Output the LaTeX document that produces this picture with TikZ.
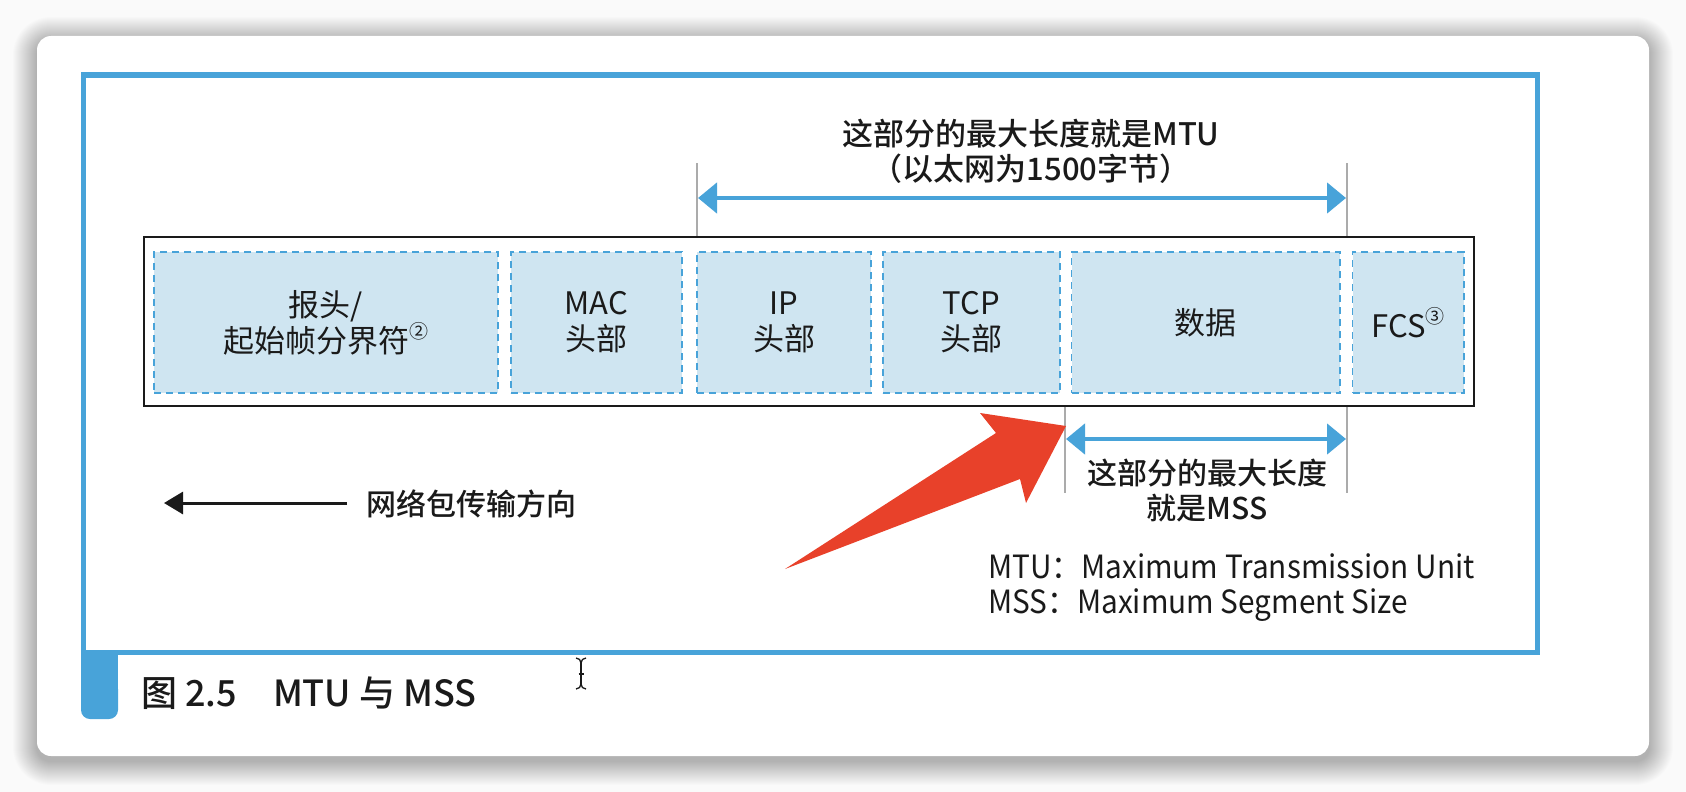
\documentclass[tikz,border=0pt]{standalone}
\usepackage{fontspec}
\setmainfont{Noto Sans CJK SC}
\newfontfamily\medfont{Noto Sans CJK SC Medium}
\newfontfamily\legfont{Noto Sans CJK SC}[FakeStretch=0.93]
\usetikzlibrary{arrows.meta}
\definecolor{frameblue}{HTML}{48A3D9}
\definecolor{cellfill}{HTML}{CFE5F1}
\definecolor{ink}{HTML}{1A1A1A}
\definecolor{arrowred}{HTML}{E8412A}
\definecolor{guide}{HTML}{ABABAB}
\definecolor{pagebg}{HTML}{FAFAFA}
\tikzset{
  cell/.style={draw=frameblue, fill=cellfill, dash pattern=on 7pt off 5pt, line width=1.6pt,
    text=ink, align=center, minimum height=141pt, inner sep=0pt,
    font=\fontsize{31}{36}\selectfont},
  guideline/.style={guide, line width=1.6pt},
  span/.style={frameblue, line width=4.5pt, {Triangle[length=19pt,width=30pt]}-{Triangle[length=19pt,width=30pt]}},
  boldlabel/.style={text=ink, align=center, inner sep=0pt, font=\medfont\fontsize{30}{35}\selectfont},
  legend/.style={text=ink, inner sep=0pt, anchor=base west, font=\legfont\fontsize{32}{35}\selectfont},
  shadowlayer/.style={fill=black, fill opacity=0.011},
}
\newcommand{\circnum}[1]{\raisebox{0.45em}{\fontsize{19}{19}\selectfont #1}}
\begin{document}
\begin{tikzpicture}[x=1pt,y=-1pt]
\useasboundingbox (0,0) rectangle (1686,792);
\fill[pagebg] (0,0) rectangle (1686,792);
% soft shadow of the card
\foreach \i in {1,...,24} {
  \fill[shadowlayer, rounded corners={14pt+\i pt}] ({37-\i},{36-\i+5}) rectangle ({1649+\i},{756+\i+5});
}
% card
\node[fill=white, rounded corners=14pt, minimum width=1612pt, minimum height=720pt, inner sep=0pt] (card) at (843,396) {};
% blue frame
\node[draw=frameblue, line width=5pt, minimum width=1454pt, minimum height=577pt, inner sep=0pt] (outer) at (810,363.5) {};
% caption tab
\fill[frameblue] (81,650) rectangle (118,700);
\fill[frameblue, rounded corners=9pt] (81,680) rectangle (118,719);
\node[anchor=base west, inner sep=0pt, text=ink, font=\medfont\fontsize{36}{40}\selectfont] (caption) at (141,706) {图 2.5\hspace{36pt}MTU 与 MSS};
% cursor
\draw[ink, line width=1.3pt] (576,658) to[out=0,in=90] (581,663) to[out=90,in=180] (586,658);
\draw[ink, line width=1.3pt] (581,663) -- (581,684);
\draw[ink, line width=1.3pt] (576,689) to[out=0,in=-90] (581,684) to[out=-90,in=180] (586,689);
\draw[ink, line width=1.3pt] (578.5,674) -- (583.5,674);
% frame
\node[draw=ink, line width=1.8pt, minimum width=1330pt, minimum height=169pt, inner sep=0pt] (frame) at (809,321.5) {};
% cells
\node[cell, minimum width=344pt] (pre) at (326,322.5) {报头/\\起始帧分界符\circnum{②}};
\node[cell, minimum width=171pt] (mac) at (596.5,322.5) {MAC\\头部};
\node[cell, minimum width=174pt] (ip) at (784,322.5) {IP\\头部};
\node[cell, minimum width=177pt] (tcp) at (971.5,322.5) {TCP\\头部};
\node[cell, minimum width=268.5pt] (data) at (1205.75,322.5) {数据};
\node[cell, minimum width=111.4pt] (fcs) at (1408.3,322.5) {FCS\circnum{③}};
% MTU span
\coordinate (mtuLt) at (697,163);
\coordinate (mtuRt) at (1347,163);
\draw[guideline] (mtuLt) -- (mtuLt |- frame.north);
\draw[guideline] (mtuRt) -- (mtuRt |- frame.north);
\coordinate (mtuA) at (698,198);
\coordinate (mtuB) at (1346,198);
\draw[span] (mtuA) -- (mtuB);
\node[boldlabel, font=\medfont\fontsize{31}{35}\selectfont] (mtulabel) at (1031,151) {这部分的最大长度就是MTU\\（以太网为1500字节）};
% MSS span
\coordinate (mssLb) at (1065,493);
\coordinate (mssRb) at (1347,493);
\draw[guideline] (mssLb |- frame.south) -- (mssLb);
\draw[guideline] (mssRb |- frame.south) -- (mssRb);
\coordinate (mssA) at (1066,439);
\coordinate (mssB) at (1346,439);
\draw[span] (mssA) -- (mssB);
\node[boldlabel] (msslabel) at (1207,491) {这部分的最大长度\\就是MSS};
% direction arrow
\coordinate (dirStart) at (347,503);
\node[boldlabel, anchor=west] (dirlabel) at (366,504) {网络包传输方向};
\coordinate (dirEnd) at (164,503);
\draw[ink, line width=3pt, -{Triangle[length=19pt,width=22pt]}] (dirStart) -- (dirEnd);
% red arrow
\fill[arrowred] (785,569) -- (996,433) -- (980,413) -- (1066,426) -- (1026,503) -- (1020,479) -- cycle;
% legend
\node[legend] (leg1) at (988,578) {MTU：Maximum Transmission Unit};
\node[legend] (leg2) at (988,613) {MSS：Maximum Segment Size};
\end{tikzpicture}
\end{document}
